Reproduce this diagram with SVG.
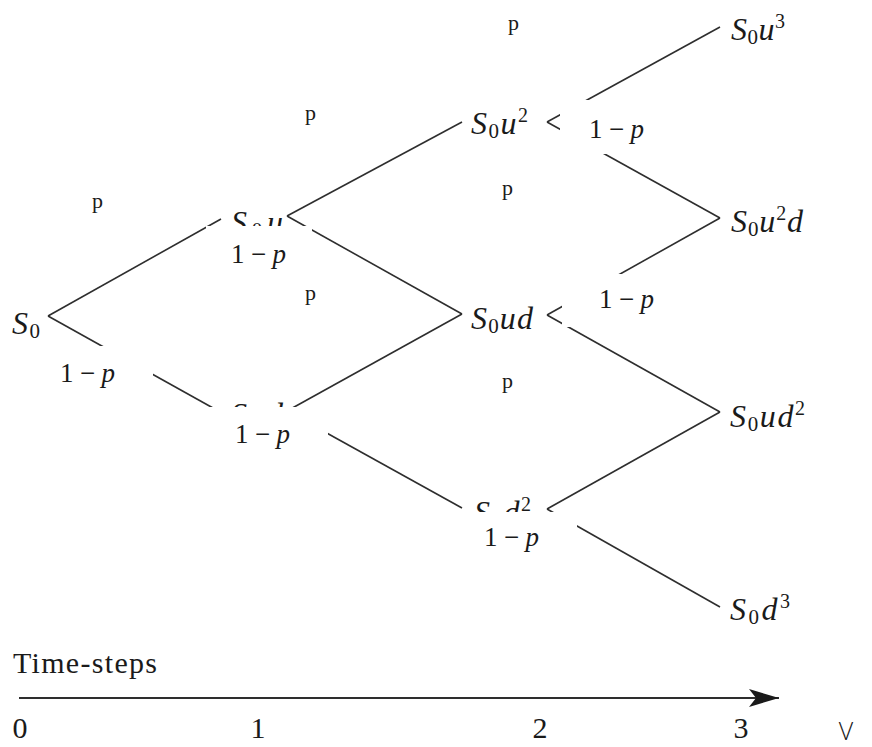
<svg xmlns="http://www.w3.org/2000/svg" width="872" height="747" viewBox="0 0 872 747">
<defs>
<style>
.edge{stroke:#2e2e2e;stroke-width:1.6;fill:none;stroke-linecap:butt}
.node{font-family:"Liberation Serif","DejaVu Serif",serif;font-style:italic;font-size:32px;fill:#1a1a1a}
.sub{font-style:normal;font-size:21px}
.sup{font-style:normal;font-size:20px}
.plab{font-family:"Liberation Serif","DejaVu Serif",serif;font-size:22px;fill:#1a1a1a}
.qlab{font-family:"Liberation Serif","DejaVu Serif",serif;font-size:27px;fill:#1a1a1a}
.qlab .it{font-style:italic}
.box{fill:#ffffff;stroke:none}
.axis{font-family:"Liberation Serif","DejaVu Serif",serif;font-size:30px;fill:#1a1a1a}
</style>
<marker id="arrow" viewBox="0 0 30 18" refX="30" refY="9" markerWidth="30" markerHeight="18" markerUnits="userSpaceOnUse" orient="auto">
<path d="M0,0 L30,9 L0,18 L7,9 Z" fill="#1a1a1a"/>
</marker>
</defs>
<rect width="872" height="747" fill="#ffffff"/>

<g id="connectors">
<line class="edge" x1="48" y1="316" x2="221" y2="219"/>
<line class="edge" x1="48" y1="316" x2="222" y2="413"/>
<line class="edge" x1="287" y1="216" x2="462" y2="122"/>
<line class="edge" x1="287" y1="216" x2="462" y2="314"/>
<line class="edge" x1="287" y1="411" x2="462" y2="314"/>
<line class="edge" x1="287" y1="411" x2="462" y2="508"/>
<line class="edge" x1="547" y1="122" x2="720" y2="27"/>
<line class="edge" x1="547" y1="122" x2="720" y2="218"/>
<line class="edge" x1="547" y1="315" x2="720" y2="218"/>
<line class="edge" x1="547" y1="315" x2="720" y2="412"/>
<line class="edge" x1="547" y1="509" x2="720" y2="412"/>
<line class="edge" x1="547" y1="509" x2="720" y2="607"/>
</g>

<g id="node-S0"><text class="node" x="12" y="334" textLength="28">S<tspan class="sub" dy="4">0</tspan></text></g>
<g id="node-S0u"><text class="node" x="231" y="233" textLength="52">S<tspan class="sub" dy="4">0</tspan><tspan dy="-4">u</tspan></text></g>
<g id="node-S0d"><text class="node" x="231" y="425" textLength="52">S<tspan class="sub" dy="4">0</tspan><tspan dy="-4">d</tspan></text></g>
<g id="node-S0u2"><text class="node" x="471" y="134" textLength="57">S<tspan class="sub" dy="4">0</tspan><tspan dy="-4">u</tspan><tspan class="sup" dy="-12">2</tspan></text></g>
<g id="node-S0ud"><text class="node" x="471" y="329" textLength="62">S<tspan class="sub" dy="4">0</tspan><tspan dy="-4">ud</tspan></text></g>
<g id="node-S0d2"><text class="node" x="474" y="523" textLength="57">S<tspan class="sub" dy="4">0</tspan><tspan dy="-4">d</tspan><tspan class="sup" dy="-12">2</tspan></text></g>
<g id="node-S0u3"><text class="node" x="731" y="40" textLength="54">S<tspan class="sub" dy="4">0</tspan><tspan dy="-4">u</tspan><tspan class="sup" dy="-12">3</tspan></text></g>
<g id="node-S0u2d"><text class="node" x="731" y="232" textLength="72">S<tspan class="sub" dy="4">0</tspan><tspan dy="-4">u</tspan><tspan class="sup" dy="-12">2</tspan><tspan dy="12">d</tspan></text></g>
<g id="node-S0ud2"><text class="node" x="730" y="427" textLength="75">S<tspan class="sub" dy="4">0</tspan><tspan dy="-4">ud</tspan><tspan class="sup" dy="-12">2</tspan></text></g>
<g id="node-S0d3"><text class="node" x="730" y="620" textLength="60">S<tspan class="sub" dy="4">0</tspan><tspan dy="-4">d</tspan><tspan class="sup" dy="-12">3</tspan></text></g>

<g id="labels-p">
<text class="plab" x="92" y="208">p</text>
<text class="plab" x="305" y="120">p</text>
<text class="plab" x="508" y="30">p</text>
<text class="plab" x="502" y="195">p</text>
<text class="plab" x="305" y="300">p</text>
<text class="plab" x="502" y="388">p</text>
</g>

<g id="labels-q">
<rect class="box" x="50" y="346" width="103" height="49"/>
<text class="qlab" x="60" y="382" textLength="55">1 − <tspan class="it">p</tspan></text>
<rect class="box" x="206" y="226" width="106" height="46"/>
<text class="qlab" x="231" y="263" textLength="55">1 − <tspan class="it">p</tspan></text>
<rect class="box" x="205" y="407" width="123" height="48"/>
<text class="qlab" x="235" y="443" textLength="55">1 − <tspan class="it">p</tspan></text>
<rect class="box" x="560" y="100" width="100" height="54"/>
<text class="qlab" x="589" y="138" textLength="55">1 − <tspan class="it">p</tspan></text>
<rect class="box" x="562" y="274" width="103" height="53"/>
<text class="qlab" x="599" y="308" textLength="55">1 − <tspan class="it">p</tspan></text>
<rect class="box" x="470" y="512" width="107" height="44"/>
<text class="qlab" x="484" y="546" textLength="55">1 − <tspan class="it">p</tspan></text>
</g>

<g id="time-axis">
<text class="axis" x="13" y="673" textLength="144">Time-steps</text>
<line x1="19" y1="698" x2="779" y2="698" stroke="#2e2e2e" stroke-width="2" marker-end="url(#arrow)"/>
<text class="axis" x="20" y="738" text-anchor="middle">0</text>
<text class="axis" x="258" y="738" text-anchor="middle">1</text>
<text class="axis" x="540" y="738" text-anchor="middle">2</text>
<text class="axis" x="741" y="738" text-anchor="middle">3</text>
<text x="846" y="740" text-anchor="middle" font-family="'Open Sans','Liberation Sans',sans-serif" font-weight="300" font-size="25" fill="#1a1a1a">V</text>
</g>
</svg>
